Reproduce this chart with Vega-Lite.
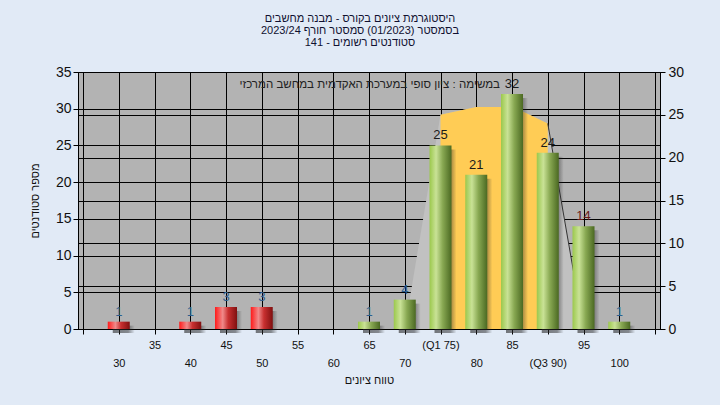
{
  "$schema": "https://vega.github.io/schema/vega-lite/v6.json",
  "autosize": "none",
  "width": 582,
  "height": 257,
  "padding": {"left": 78, "top": 72, "right": 60, "bottom": 76},
  "background": "#e1eaf6",
  "title": {
    "text": ["היסטוגרמת ציונים בקורס - מבנה מחשבים", "בסמסטר  (01/2023)  סמסטר חורף 2023/24", "סטודנטים רשומים - 141"],
    "fontSize": 11,
    "font": "Liberation Sans, sans-serif",
    "fontWeight": "normal",
    "color": "#101030",
    "lineHeight": 11.8,
    "offset": 17,
    "dx": -9,
    "anchor": "middle"
  },
  "config": {
    "view": {"fill": "#b3b3b3", "stroke": "#000000"},
    "axis": {
      "domainColor": "#000000",
      "tickColor": "#000000",
      "gridColor": "#000000",
      "gridOpacity": 1,
      "gridWidth": 1,
      "tickSize": 5,
      "labelFont": "Liberation Sans, sans-serif",
      "titleFont": "Liberation Sans, sans-serif",
      "labelColor": "#111111",
      "titleColor": "#111111",
      "titleFontWeight": "normal",
      "titleFontSize": 11
    }
  },
  "datasets": {
    "bins": [
      {"grade": 30, "count": 1},
      {"grade": 35, "count": 0},
      {"grade": 40, "count": 1},
      {"grade": 45, "count": 3},
      {"grade": 50, "count": 3},
      {"grade": 55, "count": 0},
      {"grade": 60, "count": 0},
      {"grade": 65, "count": 1},
      {"grade": 70, "count": 4},
      {"grade": 75, "count": 25},
      {"grade": 80, "count": 21},
      {"grade": 85, "count": 32},
      {"grade": 90, "count": 24},
      {"grade": 95, "count": 14},
      {"grade": 100, "count": 1}
    ],
    "curve": [
      {"grade": 70, "v": 0},
      {"grade": 75, "v": 25.0},
      {"grade": 80, "v": 25.9},
      {"grade": 83.5, "v": 25.9},
      {"grade": 86.5, "v": 25.4},
      {"grade": 90, "v": 24.0},
      {"grade": 95, "v": 0}
    ],
    "note": [
      {"note": "במשימה : ציון סופי במערכת האקדמית במחשב המרכזי", "px": 65.1, "py": 33.2}
    ]
  },
  "encoding": {
    "x": {
      "field": "grade", "type": "quantitative",
      "scale": {"domain": [25, 105], "nice": false, "zero": false},
      "axis": {
        "values": [25, 30, 35, 40, 45, 50, 55, 60, 65, 70, 75, 80, 85, 90, 95, 100, 105],
        "grid": true,
        "labelExpr": "datum.value == 25 || datum.value == 105 ? '' : (datum.value % 10 == 0 ? ['', datum.value == 90 ? '(Q3 90)' : datum.label] : [datum.value == 75 ? '(Q1 75)' : datum.label])",
        "labelFontSize": 11,
        "labelLineHeight": 18,
        "labelBaseline": "top",
        "labelPadding": 5,
        "labelOverlap": false,
        "labelFlush": false,
        "title": "טווח ציונים",
        "titlePadding": 6
      }
    }
  },
  "layer": [
    {
      "data": {"name": "curve"},
      "encoding": {
        "y": {
          "field": "v", "type": "quantitative",
          "scale": {"domain": [0, 30], "nice": false},
          "axis": {"orient": "right", "values": [0, 5, 10, 15, 20, 25, 30], "grid": true, "title": null, "labelFontSize": 14, "labelPadding": 3}
        }
      },
      "layer": [
        {"mark": {"type": "area", "color": "#c1c1c1"}},
        {"transform": [{"filter": "datum.grade >= 75 && datum.grade <= 90"}], "mark": {"type": "area", "color": "#ffcc55"}},
        {"transform": [{"filter": "datum.grade >= 90"}], "mark": {"type": "line", "color": "#333333", "strokeWidth": 1}}
      ]
    },
    {
      "data": {"name": "bins"},
      "encoding": {
        "y": {
          "field": "count", "type": "quantitative",
          "scale": {"domain": [0, 35], "nice": false},
          "axis": {"orient": "left", "values": [0, 5, 10, 15, 20, 25, 30, 35], "grid": true, "title": "מספר סטודנטים", "labelFontSize": 14, "labelPadding": 2, "titlePadding": 15}
        }
      },
      "layer": [
        {
          "transform": [{"filter": "datum.count > 0"}],
          "mark": {
            "type": "bar", "size": 22, "xOffset": 5, "yOffset": 4,
            "color": {"gradient": "linear", "x1": 0, "y1": 0, "x2": 1, "y2": 0, "stops": [
              {"offset": 0, "color": "rgba(40,40,40,0.6)"},
              {"offset": 0.7, "color": "rgba(40,40,40,0.5)"},
              {"offset": 1, "color": "rgba(40,40,40,0)"}
            ]}
          }
        },
        {
          "transform": [{"filter": "datum.count > 0 && datum.grade <= 50"}],
          "mark": {
            "type": "bar", "size": 22,
            "color": {"gradient": "linear", "x1": 0, "y1": 0, "x2": 1, "y2": 0, "stops": [
              {"offset": 0, "color": "#ff1a1a"},
              {"offset": 0.35, "color": "#f08a8a"},
              {"offset": 0.6, "color": "#c83030"},
              {"offset": 1, "color": "#801010"}
            ]}
          }
        },
        {
          "transform": [{"filter": "datum.count > 0 && datum.grade >= 65"}],
          "mark": {
            "type": "bar", "size": 22,
            "color": {"gradient": "linear", "x1": 0, "y1": 0, "x2": 1, "y2": 0, "stops": [
              {"offset": 0, "color": "#9bc84c"},
              {"offset": 0.3, "color": "#c9e296"},
              {"offset": 0.6, "color": "#88a852"},
              {"offset": 1, "color": "#4b6922"}
            ]}
          }
        },
        {
          "transform": [{"filter": "datum.count > 0"}],
          "mark": {"type": "text", "baseline": "bottom", "dy": -3, "fontSize": 13, "font": "Liberation Sans, sans-serif"},
          "encoding": {
            "text": {"field": "count", "type": "quantitative"},
            "color": {"condition": [{"test": "datum.count < 5", "value": "#2d5f90"}, {"test": "datum.grade == 95", "value": "#6a1a1a"}], "value": "#1a1a1a"}
          }
        },
        {
          "data": {"name": "note"},
          "mark": {"type": "text", "fontSize": 11.5, "font": "Liberation Sans, sans-serif", "color": "#222222", "align": "center", "baseline": "middle"},
          "encoding": {
            "x": {"field": "px", "type": "quantitative"},
            "y": {"field": "py", "type": "quantitative"},
            "text": {"field": "note", "type": "nominal"}
          }
        }
      ]
    }
  ],
  "resolve": {"scale": {"y": "independent"}}
}
